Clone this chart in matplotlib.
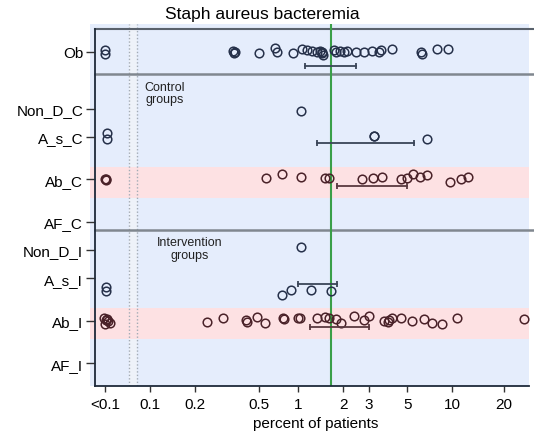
import numpy as np
import matplotlib
matplotlib.use("Agg")
import matplotlib.pyplot as plt
from matplotlib.ticker import NullLocator

plt.rcParams["font.family"] = ["Liberation Sans", "DejaVu Sans"]

# axis: labelled values and where each label sits along the axis (the axis is not a clean log)
tick_vals = [0.05, 0.1, 0.2, 0.5, 1, 2, 3, 5, 10, 20]
tick_labels = ["<0.1", "0.1", "0.2", "0.5", "1", "2", "3", "5", "10", "20"]
tick_spots = [105, 150, 195, 259.3, 298, 343.3, 369, 407.3, 452.3, 504]

rows = ["Ob", "Non_D_C", "A_s_C", "Ab_C", "AF_C", "Non_D_I", "A_s_I", "Ab_I", "AF_I"]
row_pos = [0, 4, 6, 9, 12, 14, 16, 19, 22]
pink_rows = ["Ab_C", "Ab_I"]

# percent of patients per study, "<0.1" studies stored as 0.05
ob_pct = [0.05, 0.05, 0.344, 0.351, 0.356, 0.5, 0.657, 0.683, 0.909, 1.07, 1.156,
          1.248, 1.337, 1.40, 1.437, 1.459, 1.44, 1.748, 1.775, 1.90, 2.02, 2.11,
          2.44, 2.77, 3.11, 3.44, 3.53, 4.08, 6.2, 6.27, 7.94, 9.32]
ob_dy = [-0.11, 0.11, -0.09, 0.09, 0.02, 0.07, -0.28, 0, 0.09, -0.21, -0.16,
         -0.09, -0.02, -0.09, 0.09, 0.19, 0, -0.16, 0.02, -0.05, 0.02, -0.09,
         -0.02, -0.02, -0.09, 0.02, -0.14, -0.19, -0.02, 0.14, -0.23, -0.23]
nondc_pct = [1.047]
nondc_dy = [0.2]
asc_pct = [0.0516, 0.0516, 3.21, 3.21, 6.74]
asc_dy = [-0.3, 0.15, -0.08, -0.06, 0.16]
abc_pct = [0.05, 0.0505, 0.051, 0.564, 0.751, 1.042, 1.519, 1.614, 2.70, 3.18,
           3.58, 4.60, 4.96, 5.46, 6.11, 6.74, 9.65, 11.2, 12.4]
abc_dy = [0, -0.03, 0.03, -0.07, -0.37, -0.14, -0.09, -0.09, -0.02, -0.09,
          -0.18, -0.02, -0.09, -0.35, -0.18, -0.28, 0.21, -0.02, -0.14]
nondi_pct = [1.047]
nondi_dy = [-0.19]
asi_pct = [0.0505, 0.0505, 0.747, 0.882, 1.226, 1.657]
asi_dy = [0.64, 0.88, 1.16, 0.83, 0.81, 0.88]
abi_pct = [0.0492, 0.0508, 0.0524, 0.054, 0.05, 0.0516, 0.238, 0.297, 0.414,
           0.418, 0.482, 0.557, 0.768, 0.778, 0.995, 1.031, 1.344, 1.519, 1.614,
           1.789, 1.93, 2.37, 2.79, 3.01, 3.68, 3.88, 3.92, 4.06, 4.60, 5.37,
           6.50, 7.32, 8.57, 10.65, 26.2]
abi_dy = [-0.19, -0.05, 0.02, 0.16, 0.23, -0.12, 0.07, -0.19, -0.07, 0.11, -0.28,
          0.18, -0.17, -0.12, -0.17, -0.21, -0.19, -0.24, -0.19, -0.12, 0.18,
          -0.35, -0.05, -0.35, 0, 0.11, -0.07, -0.19, -0.17, 0, -0.1, 0.18, 0.23,
          -0.17, -0.14]

points = {
    "Ob": (ob_pct, ob_dy),
    "Non_D_C": (nondc_pct, nondc_dy),
    "A_s_C": (asc_pct, asc_dy),
    "Ab_C": (abc_pct, abc_dy),
    "Non_D_I": (nondi_pct, nondi_dy),
    "A_s_I": (asi_pct, asi_dy),
    "Ab_I": (abi_pct, abi_dy),
}

# pooled estimate with interval
ci_rows = ["Ob", "A_s_C", "Ab_C", "A_s_I", "Ab_I"]
ci_low = [1.11, 1.34, 1.81, 1.0, 1.21]
ci_high = [2.44, 5.54, 5.0, 1.81, 3.0]
ci_dy = [1.0, 0.46, 0.45, 0.4, 0.47]

ref_pct = 1.657
break_lines = [0.0727, 0.0823]

# piecewise-log axis through the label spots
_lv = np.log10(tick_vals)
_sp = np.array(tick_spots, dtype=float)
_k_lo = (_sp[1] - _sp[0]) / (_lv[1] - _lv[0])
_k_hi = (_sp[-1] - _sp[-2]) / (_lv[-1] - _lv[-2])


def fwd(x):
    u = np.log10(np.clip(np.asarray(x, dtype=float), 1e-9, None))
    out = np.interp(u, _lv, _sp)
    out = np.where(u < _lv[0], _sp[0] + (u - _lv[0]) * _k_lo, out)
    out = np.where(u > _lv[-1], _sp[-1] + (u - _lv[-1]) * _k_hi, out)
    return out


def inv(p):
    p = np.asarray(p, dtype=float)
    u = np.interp(p, _sp, _lv)
    u = np.where(p < _sp[0], _lv[0] + (p - _sp[0]) / _k_lo, u)
    u = np.where(p > _sp[-1], _lv[-1] + (p - _sp[-1]) / _k_hi, u)
    return 10 ** u


W, H = 534, 435
fig = plt.figure(figsize=(W / 100, H / 100), dpi=100)
ax = fig.add_axes([90 / W, 1 - 387 / H, 439 / W, 362 / H])
ax.set_facecolor("#e5edfc")
ax.set_xscale("function", functions=(fwd, inv))
ax.set_xlim(float(inv(90)), float(inv(529)))
ax.set_ylim(23.62, -1.98)

ypos = dict(zip(rows, row_pos))

ax.axvspan(break_lines[0], break_lines[1], color="#eef2f9", lw=0, zorder=0)
for r in pink_rows:
    ax.axhspan(ypos[r] - 0.88, ypos[r] + 1.3, color="#fde1e3", lw=0, zorder=0.5)
for b in break_lines:
    ax.axvline(b, color="#a3abb5", lw=1, ls=(0, (1, 1.5)), zorder=0.6)

# frame lines running out to the right edge
for yl, c, lw in [(-1.6, "#59616c", 1.5), (1.56, "#80878f", 1.8), (12.57, "#80878f", 1.8)]:
    ax.plot([5 / 439, 444 / 439], [yl, yl], color=c, lw=lw,
            transform=ax.get_yaxis_transform(), clip_on=False, zorder=1)

ax.axvline(ref_pct, color="#3a9f48", lw=1.5, zorder=2)

for r, (vals, dys) in points.items():
    col = "#4a2229" if r in pink_rows else "#26314a"
    ys = [ypos[r] + d for d in dys]
    ax.plot(vals, ys, ls="none", marker="o", ms=6.2, mfc="none", mec=col, mew=1.1,
            zorder=3)

for r, lo, hi, d in zip(ci_rows, ci_low, ci_high, ci_dy):
    col = "#5a3940" if r in pink_rows else "#3a4558"
    ax.plot([lo, hi], [ypos[r] + d] * 2, color=col, lw=1.3, marker="|", ms=5,
            mew=1.3, zorder=3)

ax.text((165 - 90) / 439, 2.9, "Control\ngroups", transform=ax.get_yaxis_transform(),
        ha="center", va="center", fontsize=9, linespacing=1.05, color="#222")
ax.text((190 - 90) / 439, 13.9, "Intervention\ngroups", transform=ax.get_yaxis_transform(),
        ha="center", va="center", fontsize=9, linespacing=1.05, color="#222")

ax.spines["top"].set_visible(False)
ax.spines["right"].set_visible(False)
ax.spines["left"].set_position(("axes", 5 / 439))
ax.spines["left"].set_bounds(-1.6, 23.62)
ax.spines["bottom"].set_bounds(float(inv(95)), float(inv(529)))
for s in ("left", "bottom"):
    ax.spines[s].set_color("#1e2a3a")
    ax.spines[s].set_linewidth(1.3)

ax.set_xticks(tick_vals, tick_labels)
ax.xaxis.set_minor_locator(NullLocator())
ax.set_yticks(row_pos, rows)
ax.tick_params(axis="x", length=4.3, width=1, pad=3.5, labelsize=11, color="#333")
ax.tick_params(axis="y", length=6.5, width=1, pad=2, labelsize=11, color="#333")

fig.text(262 / W, 1 - 14 / H, "Staph aureus bacteremia", fontsize=12.5,
         ha="center", va="center")
fig.text(316 / W, 1 - 424 / H, "percent of patients", fontsize=11,
         ha="center", va="center")

fig.savefig("out.png", dpi=100)
